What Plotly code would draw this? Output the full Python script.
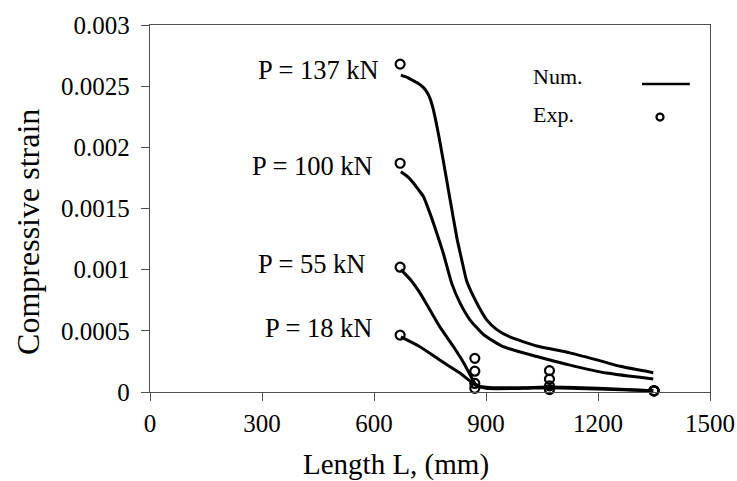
import plotly.graph_objects as go

# ---- data ----
L_exp = [670, 870, 1070, 1350]
exp_137 = [0.00268, 0.000275, 0.000175, 0.00001]
exp_100 = [0.00187, 0.000170, 0.000105, 0.00001]
exp_55 = [0.00102, 0.000070, 0.000050, 0.00001]
exp_18 = [0.000465, 0.000030, 0.000020, 0.00001]

L_137 = [672, 690, 705, 720, 732, 742, 750, 758, 766, 775, 788, 804, 822, 835, 848, 875, 902, 929, 964,
         1036, 1125, 1214, 1259, 1348]
num_137 = [0.00259, 0.00257, 0.002545, 0.00252, 0.00249, 0.00245, 0.00240, 0.00232, 0.00221, 0.00207,
           0.00185, 0.00157, 0.00126, 0.00108, 0.00091, 0.00073, 0.00059, 0.00051, 0.00045,
           0.000376, 0.00032, 0.000248, 0.00021, 0.000158]

L_100 = [672, 690, 705, 720, 732, 750, 768, 786, 808, 830, 857, 893, 946, 1036, 1125, 1223, 1348]
num_100 = [0.0018, 0.00176, 0.00171, 0.00165, 0.0016, 0.00146, 0.0013, 0.00113, 0.00089, 0.00073,
           0.00059, 0.00047, 0.00037, 0.00029, 0.00022, 0.000155, 0.000106]

L_55 = [672, 700, 723, 750, 777, 813, 840, 862, 875, 920, 1000, 1070, 1200, 1348]
num_55 = [0.001, 0.00091, 0.00081, 0.00067, 0.00053, 0.00037, 0.00024, 0.000114, 0.00005, 0.000035,
          0.000035, 0.00004, 0.00003, 0.00001]

L_18 = [672, 723, 777, 830, 870, 900, 1000, 1070, 1200, 1348]
num_18 = [0.00045, 0.00037, 0.00026, 0.000155, 0.00006, 0.00003, 0.00003, 0.000035, 0.000025, 0.00001]

load_labels = ["P = 137 kN", "P = 100 kN", "P = 55 kN", "P = 18 kN"]

x_ticks = [0, 300, 600, 900, 1200, 1500]
y_ticks = [0, 0.0005, 0.001, 0.0015, 0.002, 0.0025, 0.003]
y_tick_text = ["0", "0.0005", "0.001", "0.0015", "0.002", "0.0025", "0.003"]

FONT = "Liberation Serif, Times New Roman, serif"
fig = go.Figure()

for Lx, ys in [(L_137, num_137), (L_100, num_100), (L_55, num_55), (L_18, num_18)]:
    fig.add_trace(go.Scatter(x=Lx, y=ys, mode="lines",
                             line=dict(color="black", width=3, shape="spline", smoothing=0.5),
                             showlegend=False, cliponaxis=False, hoverinfo="skip"))

for ys in [exp_137, exp_100, exp_55, exp_18]:
    fig.add_trace(go.Scatter(x=L_exp, y=ys, mode="markers",
                             marker=dict(symbol="circle-open", size=9, color="black",
                                         line=dict(width=2.2, color="black")),
                             showlegend=False, cliponaxis=False, hoverinfo="skip"))

# load labels (paper coords: right edge, vertical centre)
label_pos = [(0.4125, 0.877), (0.4018, 0.616), (0.3875, 0.349), (0.400, 0.174)]
for txt, (px, py) in zip(load_labels, label_pos):
    fig.add_annotation(x=px, y=py, xref="paper", yref="paper", text=txt, showarrow=False,
                       xanchor="right", yanchor="middle", font=dict(family=FONT, size=26.5, color="black"))

# legend drawn manually
fig.add_annotation(x=0.680, y=0.861, xref="paper", yref="paper", text="Num.", showarrow=False,
                   xanchor="left", yanchor="middle", font=dict(family=FONT, size=22, color="black"))
fig.add_annotation(x=0.680, y=0.757, xref="paper", yref="paper", text="Exp.", showarrow=False,
                   xanchor="left", yanchor="middle", font=dict(family=FONT, size=22, color="black"))
fig.add_shape(type="line", xref="paper", yref="paper", x0=0.8786, x1=0.964, y0=0.839, y1=0.839,
              line=dict(color="black", width=2.5))
fig.add_shape(type="circle", xref="paper", yref="paper", x0=0.9107 - 0.0063, x1=0.9107 + 0.0063,
              y0=0.749 - 0.0095, y1=0.749 + 0.0095, line=dict(color="black", width=2.2))

# axis titles
fig.add_annotation(x=0.439, y=-0.198, xref="paper", yref="paper", text="Length L, (mm)", showarrow=False,
                   xanchor="center", yanchor="middle", font=dict(family=FONT, size=29, color="black"))
fig.add_annotation(x=-0.218, y=0.436, xref="paper", yref="paper", text="Compressive strain", showarrow=False,
                   textangle=-90, xanchor="center", yanchor="middle",
                   font=dict(family=FONT, size=32, color="black"))

axis_common = dict(showline=True, linecolor="#505050", linewidth=1.3, mirror=True, ticks="outside",
                   ticklen=8, tickcolor="#505050", tickwidth=1.3, showgrid=False, zeroline=False,
                   automargin=False,
                   tickfont=dict(family=FONT, size=25, color="black"))

fig.update_xaxes(range=[0, 1500], tickvals=x_ticks, ticklabelstandoff=1, **axis_common)
fig.update_yaxes(range=[0, 0.003], tickvals=y_ticks, ticktext=y_tick_text, ticklabelstandoff=6, **axis_common)

fig.update_layout(width=737, height=481, margin=dict(l=150, r=27, t=25, b=89),
                  paper_bgcolor="white", plot_bgcolor="white", showlegend=False,
                  font=dict(family=FONT, color="black"))

fig.write_html("out.html", config={"displayModeBar": False},
               post_script="document.body.style.margin='0px';")
